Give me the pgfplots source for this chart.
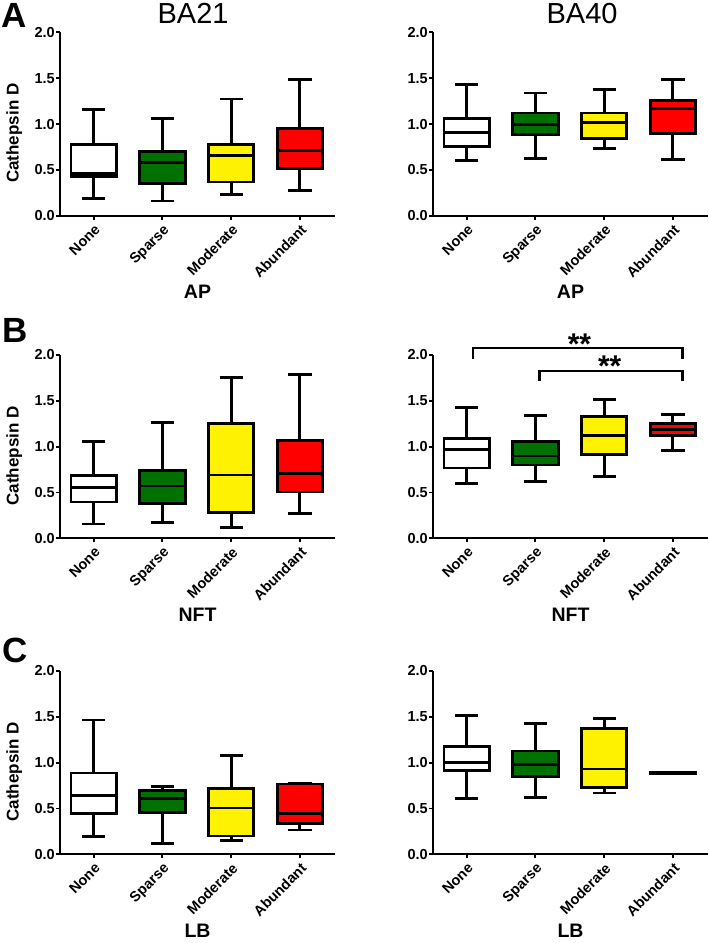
\documentclass[border=0pt]{standalone}
\usepackage{pgfplots}
\pgfplotsset{compat=1.18}
\usepackage{pgfplotstable}
\usepgfplotslibrary{statistics}
\usepackage{fontspec}
\setmainfont{Liberation Sans}

\definecolor{gpgreen}{RGB}{0,112,0}

% lw = lower whisker, lq/uq = quartiles, uw = upper whisker
% rows: None, Sparse, Moderate, Abundant
\pgfplotstableread{
lw    lq    med   uq    uw
0.19  0.425 0.462 0.78  1.16
0.16  0.35  0.578 0.705 1.065
0.23  0.367 0.658 0.775 1.273
0.27  0.516 0.713 0.949 1.484
}\tAL
\pgfplotstableread{
lw    lq    med   uq    uw
0.60  0.752 0.912 1.062 1.43
0.62  0.887 0.996 1.12  1.339
0.73  0.843 1.018 1.12  1.376
0.613 0.901 1.168 1.252 1.482
}\tAR
\pgfplotstableread{
lw    lq    med   uq    uw
0.156 0.396 0.553 0.687 1.058
0.171 0.378 0.571 0.742 1.262
0.116 0.28  0.691 1.251 1.756
0.273 0.505 0.709 1.065 1.785
}\tBL
\pgfplotstableread{
lw    lq    med   uq    uw
0.60  0.767 0.971 1.084 1.429
0.618 0.80  0.898 1.055 1.342
0.673 0.913 1.12  1.327 1.516
0.96  1.12  1.189 1.251 1.349
}\tBR
\pgfplotstableread{
lw    lq    med   uq    uw
0.193 0.444 0.64  0.887 1.465
0.12  0.455 0.611 0.695 0.735
0.153 0.20  0.505 0.716 1.08
0.265 0.338 0.447 0.767 0.778
}\tCL
\pgfplotstableread{
lw    lq    med   uq    uw
0.607 0.913 1.0   1.178 1.516
0.622 0.844 0.978 1.127 1.429
0.669 0.731 0.931 1.371 1.48
0.878 0.879 0.884 0.889 0.89
}\tCR

% one box: table, row, fill colour
\newcommand{\bx}[3]{%
  \pgfplotstablegetelem{#2}{lw}\of#1\let\vlw\pgfplotsretval
  \pgfplotstablegetelem{#2}{lq}\of#1\let\vlq\pgfplotsretval
  \pgfplotstablegetelem{#2}{med}\of#1\let\vmed\pgfplotsretval
  \pgfplotstablegetelem{#2}{uq}\of#1\let\vuq\pgfplotsretval
  \pgfplotstablegetelem{#2}{uw}\of#1\let\vuw\pgfplotsretval
  \edef\doplot{\noexpand\addplot[boxplot prepared={draw position=#2,
      lower whisker=\vlw, lower quartile=\vlq, median=\vmed,
      upper quartile=\vuq, upper whisker=\vuw},
    draw=black, line width=2.9bp, fill=#3] coordinates {};}%
  \doplot}
\newcommand{\allboxes}[1]{%
  \bx{#1}{0}{white}\bx{#1}{1}{gpgreen}\bx{#1}{2}{yellow}\bx{#1}{3}{red}}

\pgfplotsset{
  panel/.style={
    scale only axis, width=275bp, height=183.3bp,
    xmin=-0.49, xmax=3.51, ymin=0, ymax=2,
    axis lines=left, axis line style={-, line width=1.9bp},
    xtick={0,1,2,3}, xticklabels={None,Sparse,Moderate,Abundant},
    ytick={0,0.5,1,1.5,2},
    tick style={black, line width=1.9bp}, tick align=outside,
    major tick length=4bp,
    yticklabel style={/pgf/number format/fixed, /pgf/number format/fixed zerofill,
      /pgf/number format/precision=1, /pgf/number format/assume math mode=true},
    tick label style={font=\fontsize{14.5bp}{15bp}\selectfont\bfseries},
    yticklabel style={inner xsep=1bp},
    xticklabel style={rotate=45, anchor=north east, inner sep=2.5bp},
    xlabel style={at={(axis description cs:0.5,0)}, anchor=center, yshift=-76bp,
      font=\fontsize{19.5bp}{21bp}\selectfont\bfseries},
    ylabel style={at={(axis description cs:-0.166,0.45)}, anchor=center,
      font=\fontsize{17bp}{18bp}\selectfont\bfseries},
    title style={anchor=center, yshift=13bp, font=\fontsize{29bp}{30bp}\selectfont},
    boxplot/draw direction=y,
    boxplot/box extend=0.66, boxplot/whisker extend=0.34,
    clip=false,
  }
}

\begin{document}
\begin{tikzpicture}[x=1bp,y=1bp]
\path[use as bounding box] (0,0) rectangle (709,943);

% row A
\begin{axis}[panel, at={(60bp,727.3bp)}, anchor=south west,
  ylabel={Cathepsin D}, xlabel={AP}, title={BA21},
  title style={at={(axis description cs:0.484,1)}}]
\allboxes{\tAL}
\end{axis}
\begin{axis}[panel, at={(433bp,727.3bp)}, anchor=south west,
  xlabel={AP}, title={BA40},
  title style={at={(axis description cs:0.542,1)}}]
\allboxes{\tAR}
\end{axis}

% row B
\begin{axis}[panel, at={(60bp,404.7bp)}, anchor=south west,
  ylabel={Cathepsin D}, xlabel={NFT}]
\allboxes{\tBL}
\end{axis}
\begin{axis}[panel, at={(433bp,404.7bp)}, anchor=south west, xlabel={NFT}]
\allboxes{\tBR}
\addplot[black, line width=2.3bp, mark=none] coordinates {(0.09,1.96) (0.09,2.073) (3.14,2.073) (3.14,1.96)};
\addplot[black, line width=2.3bp, mark=none] coordinates {(1.06,1.72) (1.06,1.829) (3.14,1.829) (3.14,1.72)};
\node[font=\fontsize{30bp}{30bp}\selectfont\bfseries, yshift=-6bp] at (axis cs:1.64,2.185) {**};
\node[font=\fontsize{30bp}{30bp}\selectfont\bfseries, yshift=-6bp] at (axis cs:2.08,1.94) {**};
\end{axis}

% row C
\begin{axis}[panel, at={(60bp,88.7bp)}, anchor=south west,
  ylabel={Cathepsin D}, xlabel={LB}]
\allboxes{\tCL}
\end{axis}
\begin{axis}[panel, at={(433bp,88.7bp)}, anchor=south west, xlabel={LB}]
\allboxes{\tCR}
\end{axis}

% panel letters
\node[font=\fontsize{35bp}{35bp}\selectfont\bfseries] at (14.5,927.5) {A};
\node[font=\fontsize{35bp}{35bp}\selectfont\bfseries] at (15,613) {B};
\node[font=\fontsize{35bp}{35bp}\selectfont\bfseries] at (15,293) {C};
\end{tikzpicture}
\end{document}
